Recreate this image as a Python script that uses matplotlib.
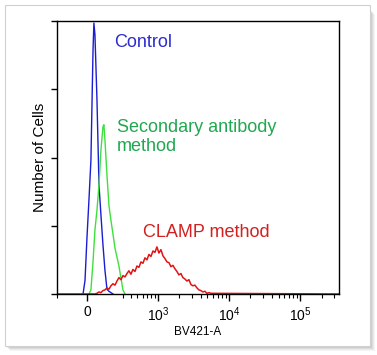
import numpy as np
import matplotlib
matplotlib.use('Agg')
import matplotlib.pyplot as plt
from matplotlib.patches import Rectangle

plt.rcParams['font.family'] = ['Liberation Sans', 'DejaVu Sans']
plt.rcParams['mathtext.fontset'] = 'custom'
plt.rcParams['mathtext.rm'] = 'Liberation Sans'

# fluorescence intensity (BV421-A) and cell counts
control_x = [-26, -13, 0, 13, 26, 40, 46, 53, 67, 81, 95, 110, 125, 141, 157, 174, 192]
control_y = [0, 20, 83, 138, 196, 357, 397, 380, 284, 160, 116, 72, 35, 7, 4, 2, 0]

secondary_x = [13, 26, 40, 53, 67, 81, 95, 110, 117, 125, 141, 157, 174, 192,
               211, 230, 250, 272, 294, 318]
secondary_y = [0, 6, 47, 94, 123, 160, 211, 245, 248, 226, 174, 130, 108, 88,
               67, 54, 41, 23, 6, 0]

clamp_x = [-230, 53, 67, 81, 95, 110, 125, 141, 157, 174, 192, 211, 230, 250, 272,
           294, 318, 343, 369, 397, 427, 459, 492, 527, 565, 605, 648, 693,
           741, 792, 847, 905, 966, 1032, 1102, 1177, 1257, 1342, 1432, 1529,
           1631, 1741, 1858, 1982, 2115, 2257, 2408, 2569, 2741, 2924, 3120,
           3328, 3551, 3788, 4041, 4311, 4599, 4905, 5233, 5583, 350000]
clamp_y = [0, 0, 1, 3, 2, 5, 6, 9, 7, 12, 15, 13, 19, 24, 21, 27, 25, 30,
           34, 29, 36, 33, 41, 39, 47, 45, 53, 50, 58, 55, 63, 61, 69, 60,
           65, 56, 52, 47, 46, 40, 42, 37, 33, 28, 30, 24, 22, 19, 21, 14,
           12, 13, 9, 6, 5, 3, 4, 1, 2, 1, 0]

major_ticks = [0, 1e3, 1e4, 1e5]
major_labels = ['0', '10$^{\\mathregular{3}}$', '10$^{\\mathregular{4}}$',
                '10$^{\\mathregular{5}}$']
minor_ticks = [-230, 300, 400, 500, 600, 700, 800, 900,
               2e3, 3e3, 4e3, 5e3, 6e3, 7e3, 8e3, 9e3,
               2e4, 3e4, 4e4, 5e4, 6e4, 7e4, 8e4, 9e4,
               2e5, 3e5]
count_ticks = [0, 100, 200, 300, 400]


def fwd(x):
    return np.arcsinh(np.asarray(x) / 204.0) / 2.2927


def inv(v):
    return 204.0 * np.sinh(np.asarray(v) * 2.2927)


fig = plt.figure(figsize=(3.77, 3.55), dpi=100)
fig.patch.set_facecolor('white')

# card with soft shadow
for off, a in [(5, 0.08), (4, 0.10), (3, 0.12), (2, 0.15)]:
    fig.patches.append(Rectangle((5 / 377 + off / 377, 9 / 355 - off / 355),
                                 365 / 377, 337 / 355, transform=fig.transFigure,
                                 facecolor='#808080', edgecolor='none', alpha=a, zorder=-3))
fig.patches.append(Rectangle((5 / 377, 9 / 355), 365 / 377, 341 / 355,
                             transform=fig.transFigure, facecolor='white',
                             edgecolor='#d0d0d0', lw=0.8, zorder=-2))

ax = fig.add_axes([57 / 377, 1 - 294 / 355, 282 / 377, 273 / 355])
ax.set_xscale('function', functions=(fwd, inv))

ax.plot(control_x, control_y, color='#1c1cd2', lw=1.0)
ax.plot(secondary_x, secondary_y, color='#3ee03e', lw=1.0)
ax.plot(clamp_x, clamp_y, color='#e01414', lw=1.1)

ax.set_xlim(-230, 350000)
ax.set_ylim(0, 400)

ax.set_xticks(major_ticks)
ax.set_xticklabels(major_labels)
ax.set_xticks(minor_ticks, minor=True)
ax.set_yticks(count_ticks)
ax.set_yticklabels([])
ax.tick_params(axis='x', which='major', length=5, width=1, labelsize=10, pad=3)
ax.tick_params(axis='x', which='minor', length=3, width=0.8)
ax.tick_params(axis='y', length=4, width=1)
for s in ax.spines.values():
    s.set_linewidth(1.0)

ax.set_xlabel('BV421-A', fontsize=8.5, labelpad=2)
ax.set_ylabel('Number of Cells', fontsize=11, labelpad=0)

ax.text(0.202, 0.904, 'Control', transform=ax.transAxes, fontsize=13,
        color='#2b2bd0', va='baseline')
ax.text(0.213, 0.594, 'Secondary antibody', transform=ax.transAxes, fontsize=13,
        color='#20a850', va='baseline')
ax.text(0.213, 0.524, 'method', transform=ax.transAxes, fontsize=13,
        color='#20a850', va='baseline')
ax.text(0.305, 0.208, 'CLAMP method', transform=ax.transAxes, fontsize=13,
        color='#d42020', va='baseline')

fig.savefig('out.png', dpi=100)
